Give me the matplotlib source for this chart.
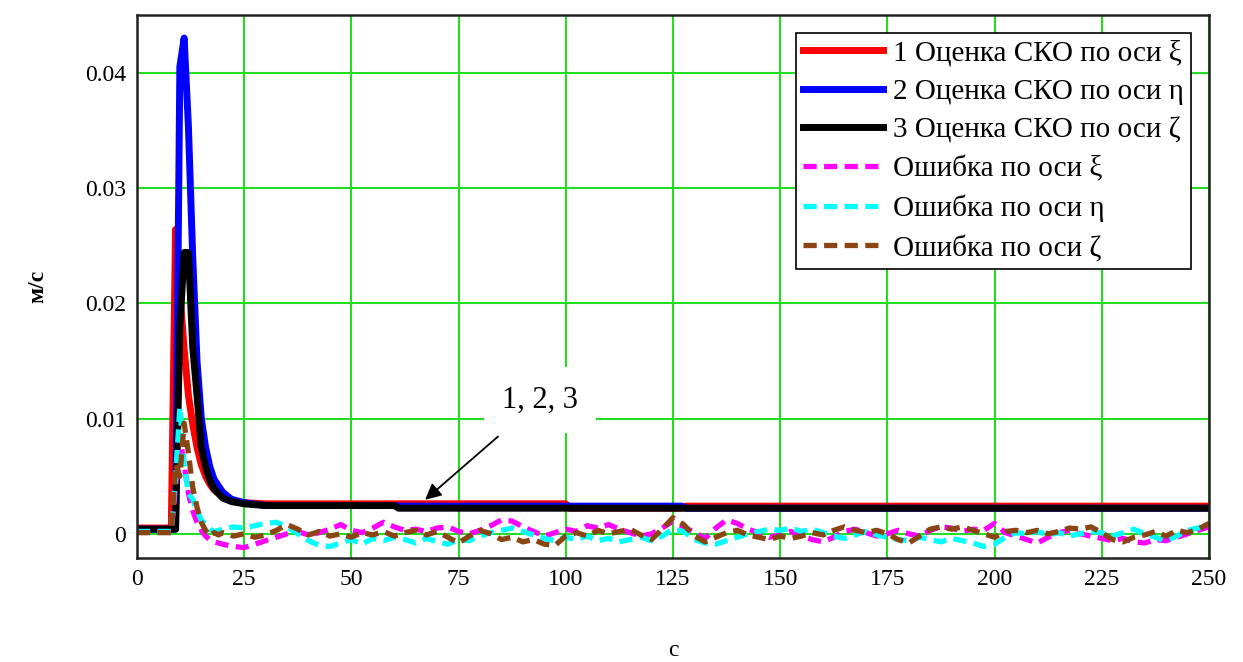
import matplotlib
matplotlib.use('Agg')
import matplotlib.pyplot as plt
import numpy as np

plt.rcParams['font.family'] = ['Liberation Serif', 'DejaVu Serif']

# estimates of RMS (СКО), sampled more densely around the start-up peak
t_cko = [0, 8, 9, 10, 11, 12, 13, 14, 15, 16, 17, 18, 20, 22, 25, 30,
         60, 61, 100, 101, 127, 128, 250]
cko_xi = [0.0005, 0.0005, 0.0264, 0.021, 0.016, 0.012, 0.0095, 0.0075, 0.006, 0.005,
          0.0043, 0.0038, 0.0032, 0.0029, 0.0027, 0.0026,
          0.0026, 0.0026, 0.0026, 0.00222, 0.00222, 0.0024, 0.0024]
cko_eta = [0.0004, 0.0004, 0.0004, 0.0405, 0.043, 0.0353, 0.024, 0.015, 0.010, 0.0075,
           0.0058, 0.0047, 0.0036, 0.003, 0.0027, 0.00245,
           0.00245, 0.0024, 0.0024, 0.0024, 0.0024, 0.00222, 0.00222]
cko_zeta = [0.0004, 0.0004, 0.0004, 0.018, 0.0244, 0.0244, 0.0162, 0.012, 0.0075, 0.0058,
            0.0046, 0.0039, 0.0031, 0.0028, 0.0026, 0.00245,
            0.00245, 0.00222, 0.00222, 0.00222, 0.00222, 0.00222, 0.00222]

# actual errors, values in 1e-3 m/s
t_err = [0, 8, 9, 10, 11, 12, 13, 14, 15, 16, 17, 18, 19,
         20, 22.5, 25, 27.5, 30, 32.5, 35, 37.5, 40, 42.5,
         45, 47.5, 50, 52.5, 55, 57.5, 60, 62.5, 65, 67.5,
         70, 72.5, 75, 77.5, 80, 82.5, 85, 87.5, 90, 92.5,
         95, 97.5, 100, 102.5, 105, 107.5, 110, 112.5, 115, 117.5,
         120, 122.5, 125, 127.5, 130, 132.5, 135, 137.5, 140, 142.5,
         145, 147.5, 150, 152.5, 155, 157.5, 160, 162.5, 165, 167.5,
         170, 172.5, 175, 177.5, 180, 182.5, 185, 187.5, 190, 192.5,
         195, 197.5, 200, 202.5, 205, 207.5, 210, 212.5, 215, 217.5,
         220, 222.5, 225, 227.5, 230, 232.5, 235, 237.5, 240, 242.5,
         245, 247.5, 250]
err_xi = [0.2, 0.2, 4.0, 8.5, 6.0, 3.5, 2.0, 1.0, 0.3, -0.2, -0.5, -0.7, -0.8,
          -0.9, -1.1, -1.2, -0.9, -0.6, -0.3, 0.0, 0.2, -0.1, 0.1,
          0.4, 0.8, 0.3, 0.1, 0.5, 1.0, 0.6, 0.3, 0.4, 0.2,
          0.5, 0.6, 0.2, 0.0, 0.3, 0.7, 1.2, 1.1, 0.6, 0.2,
          -0.2, 0.1, 0.4, 0.2, 0.7, 0.5, 0.8, 0.4, 0.1, -0.2,
          0.0, 0.5, 1.1, 0.6, 0.1, -0.4, 0.5, 1.2, 0.9, 0.4,
          0.1, -0.3, -0.1, 0.2, -0.2, -0.5, -0.7, -0.3, 0.2, 0.4,
          0.1, -0.2, 0.0, 0.3, 0.0, -0.2, 0.3, 0.6, 0.5, 0.2,
          0.4, 0.3, 0.9, 0.1, -0.2, -0.5, -0.8, -0.3, 0.1, 0.3,
          0.0, -0.2, -0.4, -0.6, -0.4, -0.7, -0.8, -0.5, -0.6, -0.3,
          0.0, 0.3, 0.6]
err_eta = [0.2, 0.2, 5.0, 11.0, 6.0, 3.5, 3.0, 2.0, 1.2, 0.8, 0.4, 0.2, 0.3,
           0.4, 0.6, 0.5, 0.7, 0.9, 1.0, 0.6, 0.0, -0.6, -1.0,
           -1.1, -0.8, -0.5, -0.9, -0.4, -0.6, -0.3, -0.5, -0.8, -0.4,
           -0.7, -0.9, -0.5, -0.6, -0.2, 0.1, 0.3, 0.5, 0.2, -0.1,
           -0.4, -0.6, -0.3, -0.5, -0.2, -0.6, -0.4, -0.7, -0.5, -0.3,
           -0.6, -0.2, 0.4, 0.2, -0.5, -0.8, -0.9, -0.6, -0.3, 0.0,
           0.2, 0.4, 0.3, 0.5, 0.2, 0.4, 0.1, -0.2, -0.4, -0.1,
           0.2, -0.1, -0.3, -0.5, -0.6, -0.3, -0.5, -0.7, -0.4, -0.6,
           -0.8, -1.1, -0.9, -0.3, 0.1, 0.0, 0.2, -0.1, 0.1, -0.2,
           0.0, 0.2, 0.1, -0.2, 0.1, 0.4, 0.0, -0.3, -0.6, -0.2,
           0.3, 0.5, 0.8]
err_zeta = [0.1, 0.1, 6.0, 5.0, 9.6, 7.0, 4.0, 2.3, 1.0, 0.3, -0.2, 0.1, -0.1,
            0.1, -0.2, 0.0, -0.3, -0.1, 0.3, 0.8, 0.4, -0.1, 0.2,
            -0.2, 0.0, -0.3, 0.1, -0.1, 0.2, -0.2, 0.1, 0.3, -0.1,
            0.2, -0.3, -0.8, -0.2, 0.3, 0.0, -0.5, -0.3, -0.7, -0.5,
            -0.9, -1.0, -0.2, 0.1, -0.2, 0.3, 0.0, 0.2, 0.4, -0.1,
            -0.5, 0.4, 1.4, 0.8, -0.2, -0.7, -0.3, 0.1, 0.3, -0.1,
            -0.3, -0.5, -0.2, -0.4, -0.2, 0.1, -0.1, 0.3, 0.6, 0.3,
            0.1, 0.3, 0.0, -0.5, -0.8, -0.2, 0.4, 0.6, 0.4, 0.6,
            0.3, 0.0, -0.3, 0.2, 0.3, 0.1, 0.3, 0.0, 0.2, 0.5,
            0.4, 0.6, 0.1, -0.5, -0.7, -0.3, -0.1, 0.2, -0.2, 0.3,
            0.1, 0.4, 0.9]

labels = ['1 Оценка СКО по оси ξ', '2 Оценка СКО по оси η', '3 Оценка СКО по оси ζ',
          'Ошибка по оси ξ', 'Ошибка по оси η', 'Ошибка по оси ζ']
x_ticks = [0, 25, 50, 75, 100, 125, 150, 175, 200, 225, 250]
y_ticks = [0, 0.01, 0.02, 0.03, 0.04]
y_ticklabels = ['0', '0.01', '0.02', '0.03', '0.04']

fig = plt.figure(figsize=(12.43, 6.62), dpi=100)
ax = fig.add_axes([0.1102, 0.1571, 0.8624, 0.8202])

ax.plot(t_cko, cko_xi, color='#ff0000', lw=5, label=labels[0])
ax.plot(t_cko, cko_eta, color='#0000ff', lw=5, label=labels[1])
ax.plot(t_cko, cko_zeta, color='#000000', lw=5, label=labels[2])
sc = 1e-3
ax.plot(t_err, np.array(err_xi) * sc, color='#ff00ff', lw=3.8, dashes=(2.5, 1.4), label=labels[3])
ax.plot(t_err, np.array(err_eta) * sc, color='#00ffff', lw=3.8, dashes=(2.5, 1.4), label=labels[4])
ax.plot(t_err, np.array(err_zeta) * sc, color='#8b4513', lw=3.8, dashes=(2.5, 1.4), label=labels[5])

ax.set_xlim(0, 250)
ax.set_ylim(-0.0021, 0.0450)
ax.set_xticks(x_ticks)
ax.set_yticks(y_ticks)
ax.set_yticklabels(y_ticklabels)
ax.tick_params(length=0, labelsize=17, pad=8)
ax.grid(True, color='#22dd22', lw=1.5)
ax.set_axisbelow(True)
for s in ax.spines.values():
    s.set_linewidth(1.8)
    s.set_color('#222222')

ax.set_xlabel('с', fontsize=17, labelpad=36)
ax.set_ylabel('м/с', fontsize=17, fontweight='bold', labelpad=26)

leg = ax.legend(loc='upper right', fontsize=21, frameon=True, fancybox=False,
                edgecolor='black', framealpha=1, handlelength=2.75, handletextpad=0.35,
                borderpad=0.25, labelspacing=0.42, borderaxespad=0.6)
leg.get_frame().set_linewidth(1.2)

ax.annotate('1, 2, 3', xy=(67.2, 0.00295), xytext=(94, 0.0116), fontsize=22,
            ha='center', va='center',
            bbox=dict(boxstyle='square,pad=0.6', fc='white', ec='none'),
            arrowprops=dict(arrowstyle='-|>', color='black', lw=1.3,
                            mutation_scale=24, shrinkA=4, shrinkB=0))

plt.savefig('out.png', dpi=100)
